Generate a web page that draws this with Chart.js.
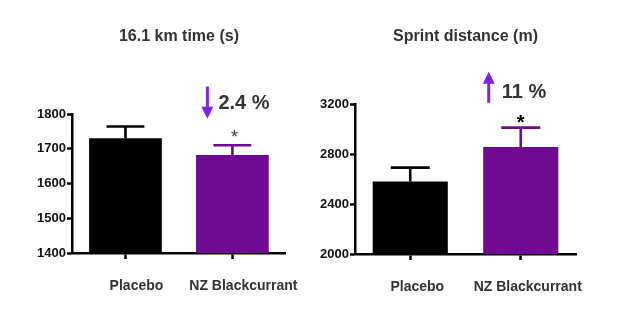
<!DOCTYPE html>
<html>
<head>
<meta charset="utf-8">
<script src="https://cdn.jsdelivr.net/npm/chart.js@4"></script>
<style>
  body { margin: 0; background: #fff; }
  #wrap { position: relative; width: 624px; height: 322px; }
  canvas { position: absolute; top: 0; }
  #time { left: 0; }
  #sprint { left: 312px; }
</style>
</head>
<body>
<div id="wrap">
  <canvas id="time" width="312" height="322"></canvas>
  <canvas id="sprint" width="312" height="322"></canvas>
</div>
<script>
// data
const categories = ["Placebo", "NZ Blackcurrant"];
const timeMeans = [1730, 1682];
const timeErrTops = [1764, 1710];      // mean + SEM
const sprintMeans = [2580, 2857];
const sprintErrTops = [2691, 3011];
const timeTicks = [1400, 1500, 1600, 1700, 1800];
const sprintTicks = [2000, 2400, 2800, 3200];
const barColors = ["#000000", "#700a92"];

// change annotations (placed in data units on the NZ bar)
const timeNote = { text: "2.4 %", arrowFrom: 1879, arrowTo: 1786, textAt: 1829, starAt: 1746 };
const sprintNote = { text: "11 %", arrowFrom: 3210, arrowTo: 3458, textAt: 3290, starAt: 3096 };

const FONT = "'Liberation Sans', Arial, Helvetica, sans-serif";

// one sided error bars, GraphPad style
const errorBars = {
  id: "errorBars",
  afterDatasetsDraw(chart, args, opts) {
    const meta = chart.getDatasetMeta(0);
    const y = chart.scales.y;
    const ctx = chart.ctx;
    opts.tops.forEach((top, i) => {
      const bar = meta.data[i];
      const yTop = y.getPixelForValue(top);
      const cap = bar.width * 0.26;
      ctx.save();
      ctx.strokeStyle = barColors[i];
      ctx.lineWidth = 2.6;
      ctx.beginPath();
      ctx.moveTo(bar.x, bar.y);
      ctx.lineTo(bar.x, yTop);
      ctx.moveTo(bar.x - cap, yTop);
      ctx.lineTo(bar.x + cap, yTop);
      ctx.stroke();
      ctx.restore();
    });
  }
};

const changeNote = {
  id: "changeNote",
  afterDraw(chart, args, opts) {
    const ctx = chart.ctx;
    const y = chart.scales.y;
    const cx = chart.getDatasetMeta(0).data[1].x;
    const n = opts.note;
    // arrow
    const ax = cx + opts.arrowDx;
    const y1 = y.getPixelForValue(n.arrowFrom);
    const y2 = y.getPixelForValue(n.arrowTo);
    const dir = y2 > y1 ? 1 : -1;
    ctx.save();
    ctx.strokeStyle = "#7a22ef";
    ctx.fillStyle = "#7a22ef";
    ctx.lineWidth = 3;
    ctx.beginPath();
    ctx.moveTo(ax, y1);
    ctx.lineTo(ax, y2 - dir * 8);
    ctx.stroke();
    ctx.beginPath();
    ctx.moveTo(ax - 6, y2 - dir * 12);
    ctx.lineTo(ax + 6, y2 - dir * 12);
    ctx.lineTo(ax, y2);
    ctx.closePath();
    ctx.fill();
    // percent text
    ctx.fillStyle = "#333333";
    ctx.font = "bold 20px " + FONT;
    ctx.textAlign = "left";
    ctx.textBaseline = "middle";
    ctx.fillText(n.text, cx + opts.textDx, y.getPixelForValue(n.textAt));
    // significance star
    ctx.fillStyle = opts.starColor;
    ctx.font = opts.starFont + " " + FONT;
    ctx.textAlign = "center";
    ctx.textBaseline = "alphabetic";
    ctx.fillText("*", cx + opts.starDx, y.getPixelForValue(n.starAt) + opts.starSize * 0.58);
    ctx.restore();
  }
};

function makeChart(id, title, means, tops, ticks, setup) {
  return new Chart(document.getElementById(id), {
    type: "bar",
    data: {
      labels: categories,
      datasets: [{
        data: means,
        backgroundColor: barColors,
        borderWidth: 0,
        categoryPercentage: 1,
        barPercentage: 0.68
      }]
    },
    options: {
      responsive: false,
      animation: false,
      layout: { padding: { left: 0, right: setup.right, top: 0, bottom: 0 } },
      plugins: {
        legend: { display: false },
        tooltip: { enabled: false },
        title: {
          display: true,
          text: title,
          fullSize: false,
          color: "#333333",
          font: { family: FONT, size: 16, weight: "bold" },
          padding: { top: 27, bottom: setup.titleBottom }
        },
        errorBars: { tops: tops },
        changeNote: setup.note
      },
      scales: {
        x: {
          grid: { display: true, offset: false, drawOnChartArea: false, tickLength: 6, tickWidth: 2.5, tickColor: "#000" },
          border: { display: true, color: "#000", width: 2.5 },
          ticks: {
            color: "#333333",
            font: { family: FONT, size: 14, weight: "bold" },
            padding: 19,
            labelOffset: setup.labelOffset,
            autoSkip: false,
            maxRotation: 0
          },
          afterFit: (s) => { s.height = setup.xHeight; }
        },
        y: {
          min: ticks[0],
          max: ticks[ticks.length - 1],
          afterBuildTicks: (s) => { s.ticks = ticks.map(v => ({ value: v })); },
          grid: { display: true, drawOnChartArea: false, tickLength: 5, tickWidth: 2.5, tickColor: "#000" },
          border: { display: true, color: "#000", width: 2.5 },
          ticks: {
            color: "#111111",
            font: { family: FONT, size: 13, weight: "bold" },
            padding: 1,
            callback: (v) => String(v)
          },
          afterFit: (s) => { s.width = setup.yWidth; }
        }
      }
    },
    plugins: [errorBars, changeNote]
  });
}

makeChart("time", "16.1 km time (s)", timeMeans, timeErrTops, timeTicks, {
  right: 26, yWidth: 72, xHeight: 69, titleBottom: 67.8, labelOffset: 11,
  note: { note: timeNote, arrowDx: -25, textDx: -14, starDx: 2, starColor: "#333333", starFont: "18px", starSize: 18 }
});

makeChart("sprint", "Sprint distance (m)", sprintMeans, sprintErrTops, sprintTicks, {
  right: 48, yWidth: 43, xHeight: 68, titleBottom: 57.8, labelOffset: 7,
  note: { note: sprintNote, arrowDx: -32, textDx: -19, starDx: 0, starColor: "#000000", starFont: "bold 20px", starSize: 20 }
});
</script>
</body>
</html>
